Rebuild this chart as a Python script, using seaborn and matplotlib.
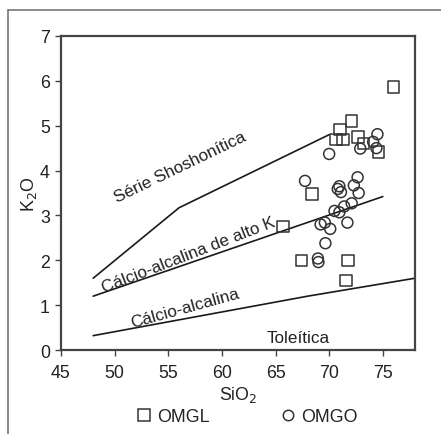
import pandas as pd
import matplotlib
matplotlib.use("Agg")
from matplotlib import pyplot as plt
from matplotlib.lines import Line2D
import seaborn as sns

# OMGL samples (squares)
omgl_sio2 = [76.0, 72.1, 71.0, 70.65, 71.3, 72.7, 73.2, 74.6, 68.4, 65.7, 67.4, 71.75, 71.55]
omgl_k2o = [5.86, 5.10, 4.91, 4.69, 4.69, 4.75, 4.60, 4.41, 3.48, 2.75, 1.99, 2.00, 1.55]

# OMGO samples (circles)
omgo_sio2 = [74.5, 74.1, 72.9, 74.4, 70.0, 67.75, 70.95, 70.8, 71.1, 72.65, 72.3, 72.75,
             72.1, 71.4, 70.95, 70.5, 71.7, 69.2, 69.6, 70.1, 69.65, 68.95, 69.0]
omgo_k2o = [4.81, 4.64, 4.49, 4.50, 4.37, 3.77, 3.65, 3.59, 3.52, 3.85, 3.67, 3.50,
            3.27, 3.20, 3.07, 3.10, 2.84, 2.80, 2.84, 2.70, 2.38, 2.04, 1.96]

# series boundaries
shosh_x = [48, 56, 70]
shosh_y = [1.6, 3.17, 4.8]
highk_x = [48, 75]
highk_y = [1.2, 3.42]
calc_x = [48, 68, 78]
calc_y = [0.32, 1.2, 1.6]

sns.set_style("ticks")
plt.rcParams["font.family"] = ["Liberation Sans", "DejaVu Sans"]

fig = plt.figure(figsize=(4.41, 4.35), dpi=100)
ax = fig.add_axes([0.1383, 0.1931, 0.8027, 0.7219])

for xs, ys in [(shosh_x, shosh_y), (highk_x, highk_y), (calc_x, calc_y)]:
    sns.lineplot(x=xs, y=ys, ax=ax, color="#1a1a1a", linewidth=1.2,
                 estimator=None, sort=False)

sns.scatterplot(x=omgl_sio2, y=omgl_k2o, ax=ax, marker="s", s=68,
                facecolor="none", edgecolor="#333333", linewidth=1.1, zorder=3)
sns.scatterplot(x=omgo_sio2, y=omgo_k2o, ax=ax, marker="o", s=62,
                facecolor="none", edgecolor="#333333", linewidth=1.1, zorder=3)

txt = dict(fontsize=12.3, color="#222222", ha="center", va="center",
           rotation_mode="anchor")
ax.text(56.1, 4.08, "Série Shoshonítica", rotation=25.7, **txt)
ax.text(56.9, 2.14, "Cálcio-alcalina de alto K", rotation=21.2, **txt)
ax.text(56.6, 0.95, "Cálcio-alcalina", rotation=15.5, **txt)
ax.text(67.1, 0.27, "Toleítica", rotation=0, **txt)

ax.set_xlim(45, 78)
ax.set_ylim(0, 7)
ax.set_xticks([45, 50, 55, 60, 65, 70, 75])
ax.set_yticks(range(0, 8))
ax.tick_params(labelsize=12.8, length=4, width=1, color="#444444",
               labelcolor="#222222")
ax.tick_params(axis="x", pad=6)
ax.tick_params(axis="y", pad=4)
for sp in ax.spines.values():
    sp.set_visible(True)
    sp.set_linewidth(1.6)
    sp.set_color("#444444")
ax.set_xlabel("SiO$_2$", fontsize=12.8, color="#222222", labelpad=2)
ax.set_ylabel("K$_2$O", fontsize=12.8, color="#222222", labelpad=0.5)

handles = [
    Line2D([], [], marker="s", linestyle="none", markersize=9,
           markerfacecolor="none", markeredgecolor="#333333", markeredgewidth=1.1),
    Line2D([], [], marker="o", linestyle="none", markersize=7.5,
           markerfacecolor="none", markeredgecolor="#333333", markeredgewidth=1.1),
]
fig.legend(handles, ["OMGL", "OMGO"], loc="center", bbox_to_anchor=(0.56, 0.04),
           ncol=2, frameon=False, fontsize=12.8, handlelength=0.8,
           handletextpad=0.35, columnspacing=4.0, labelcolor="#222222")

# outer frame lines (left and top)
fig.add_artist(Line2D([0.019, 0.019], [0.0, 0.975], transform=fig.transFigure,
                      color="#777777", linewidth=1.2))
fig.add_artist(Line2D([0.019, 1.0], [0.975, 0.975], transform=fig.transFigure,
                      color="#777777", linewidth=1.2))

fig.savefig("out.png", dpi=100, facecolor="white")
